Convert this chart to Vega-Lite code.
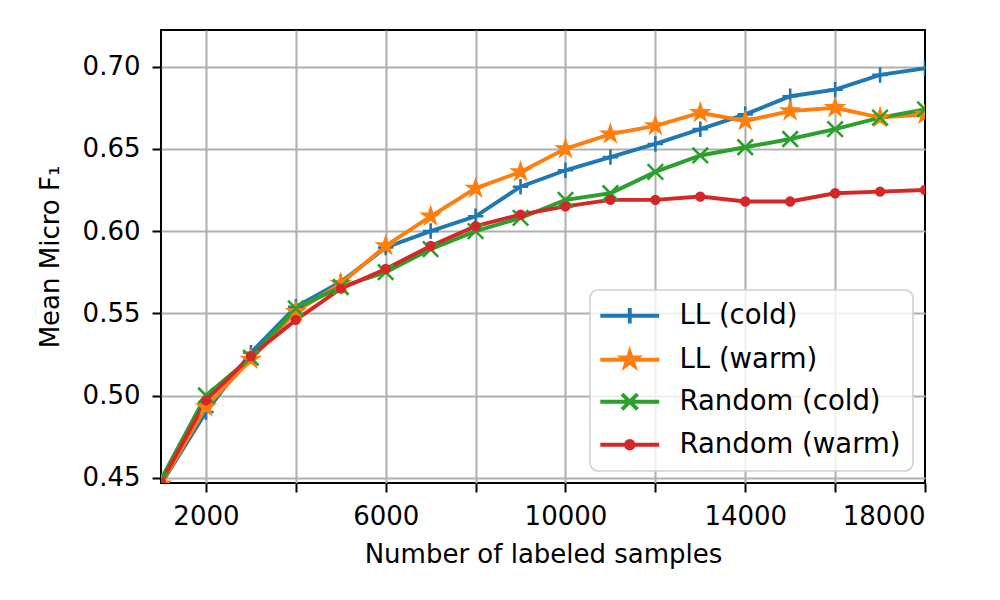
{
  "$schema": "https://vega.github.io/schema/vega-lite/v6.json",
  "description": "Mean micro F1 against number of labeled samples for four sampling strategies",
  "width": 764,
  "height": 453,
  "autosize": {"type": "none"},
  "padding": {"left": 161, "top": 30, "right": 75, "bottom": 117},
  "background": "white",
  "data": {
    "values": [
      {"n": 1000, "series": "LL (cold)", "f1": 0.446},
      {"n": 2000, "series": "LL (cold)", "f1": 0.490},
      {"n": 3000, "series": "LL (cold)", "f1": 0.526},
      {"n": 4000, "series": "LL (cold)", "f1": 0.554},
      {"n": 5000, "series": "LL (cold)", "f1": 0.569},
      {"n": 6000, "series": "LL (cold)", "f1": 0.590},
      {"n": 7000, "series": "LL (cold)", "f1": 0.600},
      {"n": 8000, "series": "LL (cold)", "f1": 0.609},
      {"n": 9000, "series": "LL (cold)", "f1": 0.627},
      {"n": 10000, "series": "LL (cold)", "f1": 0.637},
      {"n": 11000, "series": "LL (cold)", "f1": 0.645},
      {"n": 12000, "series": "LL (cold)", "f1": 0.653},
      {"n": 13000, "series": "LL (cold)", "f1": 0.662},
      {"n": 14000, "series": "LL (cold)", "f1": 0.671},
      {"n": 15000, "series": "LL (cold)", "f1": 0.682},
      {"n": 16000, "series": "LL (cold)", "f1": 0.686},
      {"n": 17000, "series": "LL (cold)", "f1": 0.695},
      {"n": 18000, "series": "LL (cold)", "f1": 0.699},
      {"n": 1000, "series": "LL (warm)", "f1": 0.446},
      {"n": 2000, "series": "LL (warm)", "f1": 0.493},
      {"n": 3000, "series": "LL (warm)", "f1": 0.522},
      {"n": 4000, "series": "LL (warm)", "f1": 0.551},
      {"n": 5000, "series": "LL (warm)", "f1": 0.568},
      {"n": 6000, "series": "LL (warm)", "f1": 0.591},
      {"n": 7000, "series": "LL (warm)", "f1": 0.609},
      {"n": 8000, "series": "LL (warm)", "f1": 0.626},
      {"n": 9000, "series": "LL (warm)", "f1": 0.636},
      {"n": 10000, "series": "LL (warm)", "f1": 0.650},
      {"n": 11000, "series": "LL (warm)", "f1": 0.659},
      {"n": 12000, "series": "LL (warm)", "f1": 0.664},
      {"n": 13000, "series": "LL (warm)", "f1": 0.672},
      {"n": 14000, "series": "LL (warm)", "f1": 0.667},
      {"n": 15000, "series": "LL (warm)", "f1": 0.673},
      {"n": 16000, "series": "LL (warm)", "f1": 0.675},
      {"n": 17000, "series": "LL (warm)", "f1": 0.669},
      {"n": 18000, "series": "LL (warm)", "f1": 0.671},
      {"n": 1000, "series": "Random (cold)", "f1": 0.449},
      {"n": 2000, "series": "Random (cold)", "f1": 0.500},
      {"n": 3000, "series": "Random (cold)", "f1": 0.523},
      {"n": 4000, "series": "Random (cold)", "f1": 0.553},
      {"n": 5000, "series": "Random (cold)", "f1": 0.566},
      {"n": 6000, "series": "Random (cold)", "f1": 0.575},
      {"n": 7000, "series": "Random (cold)", "f1": 0.589},
      {"n": 8000, "series": "Random (cold)", "f1": 0.600},
      {"n": 9000, "series": "Random (cold)", "f1": 0.608},
      {"n": 10000, "series": "Random (cold)", "f1": 0.619},
      {"n": 11000, "series": "Random (cold)", "f1": 0.623},
      {"n": 12000, "series": "Random (cold)", "f1": 0.636},
      {"n": 13000, "series": "Random (cold)", "f1": 0.646},
      {"n": 14000, "series": "Random (cold)", "f1": 0.651},
      {"n": 15000, "series": "Random (cold)", "f1": 0.656},
      {"n": 16000, "series": "Random (cold)", "f1": 0.662},
      {"n": 17000, "series": "Random (cold)", "f1": 0.669},
      {"n": 18000, "series": "Random (cold)", "f1": 0.674},
      {"n": 1000, "series": "Random (warm)", "f1": 0.447},
      {"n": 2000, "series": "Random (warm)", "f1": 0.497},
      {"n": 3000, "series": "Random (warm)", "f1": 0.524},
      {"n": 4000, "series": "Random (warm)", "f1": 0.546},
      {"n": 5000, "series": "Random (warm)", "f1": 0.565},
      {"n": 6000, "series": "Random (warm)", "f1": 0.577},
      {"n": 7000, "series": "Random (warm)", "f1": 0.591},
      {"n": 8000, "series": "Random (warm)", "f1": 0.603},
      {"n": 9000, "series": "Random (warm)", "f1": 0.610},
      {"n": 10000, "series": "Random (warm)", "f1": 0.615},
      {"n": 11000, "series": "Random (warm)", "f1": 0.619},
      {"n": 12000, "series": "Random (warm)", "f1": 0.619},
      {"n": 13000, "series": "Random (warm)", "f1": 0.621},
      {"n": 14000, "series": "Random (warm)", "f1": 0.618},
      {"n": 15000, "series": "Random (warm)", "f1": 0.618},
      {"n": 16000, "series": "Random (warm)", "f1": 0.623},
      {"n": 17000, "series": "Random (warm)", "f1": 0.624},
      {"n": 18000, "series": "Random (warm)", "f1": 0.625}
    ]
  },
  "encoding": {
    "x": {
      "field": "n",
      "type": "quantitative",
      "scale": {"domain": [1000, 18000], "nice": false, "zero": false},
      "axis": {
        "title": "Number of labeled samples",
        "values": [2000, 4000, 6000, 8000, 10000, 12000, 14000, 16000, 18000],
        "labelExpr": "datum.value % 4000 == 2000 ? format(datum.value, 'd') : ''",
        "labelPadding": 11,
        "titlePadding": 12,
        "gridOpacity": {"condition": {"test": "datum.value >= 18000", "value": 0}, "value": 1}
      }
    },
    "y": {
      "field": "f1",
      "type": "quantitative",
      "scale": {"domain": [0.4468, 0.7223], "nice": false, "zero": false},
      "axis": {
        "title": "Mean Micro F₁",
        "values": [0.45, 0.5, 0.55, 0.6, 0.65, 0.7],
        "format": ".2f",
        "labelPadding": 12,
        "titlePadding": 19
      }
    }
  },
  "layer": [
    {
      "mark": {"type": "line", "strokeWidth": 3.9, "clip": true},
      "encoding": {
        "color": {
          "field": "series",
          "type": "nominal",
          "scale": {
            "domain": ["LL (cold)", "LL (warm)", "Random (cold)", "Random (warm)"],
            "range": ["#1f77b4", "#ff7f0e", "#2ca02c", "#d62728"]
          },
          "legend": null
        }
      }
    },
    {
      "mark": {"type": "point", "filled": true, "size": 240, "strokeWidth": 2.6, "opacity": 1, "clip": true},
      "encoding": {
        "color": {
          "field": "series",
          "type": "nominal",
          "scale": {
            "domain": ["LL (cold)", "LL (warm)", "Random (cold)", "Random (warm)"],
            "range": ["#1f77b4", "#ff7f0e", "#2ca02c", "#d62728"]
          },
          "legend": null
        },
        "shape": {
          "field": "series",
          "type": "nominal",
          "scale": {
            "domain": ["LL (cold)", "LL (warm)", "Random (cold)", "Random (warm)"],
            "range": [
              "M-1,0L1,0M0,-1L0,1",
              "M0,-1L0.2245,-0.309L0.951,-0.309L0.363,0.118L0.588,0.809L0,0.382L-0.588,0.809L-0.363,0.118L-0.951,-0.309L-0.2245,-0.309Z",
              "M-1,-1L1,1M-1,1L1,-1",
              "M0.5,0A0.5,0.5,0,1,1,-0.5,0A0.5,0.5,0,1,1,0.5,0Z"
            ]
          },
          "legend": null
        },
        "stroke": {
          "field": "series",
          "type": "nominal",
          "scale": {
            "domain": ["LL (cold)", "LL (warm)", "Random (cold)", "Random (warm)"],
            "range": ["#1f77b4", "#ff7f0e", "#2ca02c", "#d62728"]
          },
          "legend": null
        }
      }
    },
    {
      "transform": [{"filter": "datum.n > 100000"}],
      "mark": {"type": "point", "filled": true, "size": 240, "strokeWidth": 3.9, "opacity": 1},
      "encoding": {
        "color": {
          "field": "series",
          "type": "nominal",
          "title": null,
          "scale": {
            "domain": ["LL (cold)", "LL (warm)", "Random (cold)", "Random (warm)"],
            "range": ["#1f77b4", "#ff7f0e", "#2ca02c", "#d62728"]
          },
          "legend": {
            "title": null,
            "orient": "bottom-right",
            "offset": 12,
            "padding": 12,
            "symbolSize": 240,
            "symbolOffset": 14,
            "labelOffset": 36,
            "rowPadding": 12,
            "labelFontSize": 27.5,
            "symbolStrokeWidth": 3.9,
            "symbolOpacity": 1,
            "fillColor": "rgba(255,255,255,0.8)",
            "strokeColor": "#d0d0d0",
            "cornerRadius": 8
          }
        },
        "shape": {
          "field": "series",
          "type": "nominal",
          "title": null,
          "scale": {
            "domain": ["LL (cold)", "LL (warm)", "Random (cold)", "Random (warm)"],
            "range": [
              "M-3.8,0L3.8,0M0,-1L0,1",
              "M-3.8,0L3.8,0M0,-1L0.2245,-0.309L0.951,-0.309L0.363,0.118L0.588,0.809L0,0.382L-0.588,0.809L-0.363,0.118L-0.951,-0.309L-0.2245,-0.309Z",
              "M-3.8,0L3.8,0M-1,-1L1,1M-1,1L1,-1",
              "M-3.8,0L3.8,0M0.5,0A0.5,0.5,0,1,1,-0.5,0A0.5,0.5,0,1,1,0.5,0Z"
            ]
          },
          "legend": {"title": null, "orient": "bottom-right"}
        },
        "stroke": {
          "field": "series",
          "type": "nominal",
          "title": null,
          "scale": {
            "domain": ["LL (cold)", "LL (warm)", "Random (cold)", "Random (warm)"],
            "range": ["#1f77b4", "#ff7f0e", "#2ca02c", "#d62728"]
          },
          "legend": {"title": null, "orient": "bottom-right"}
        }
      }
    }
  ],
  "resolve": {"scale": {"shape": "independent", "color": "independent", "stroke": "independent"}},
  "config": {
    "font": "DejaVu Sans",
    "view": {"stroke": "#000000", "strokeWidth": 2},
    "axis": {
      "domain": false,
      "labelFont": "DejaVu Sans",
      "labelFontSize": 26,
      "labelColor": "#000000",
      "titleFont": "DejaVu Sans",
      "titleFontSize": 26,
      "titleFontWeight": "normal",
      "titleColor": "#000000",
      "tickColor": "#000000",
      "tickSize": 9,
      "tickWidth": 2,
      "grid": true,
      "gridColor": "#b0b0b0",
      "gridWidth": 2.1
    },
    "legend": {
      "labelFont": "DejaVu Sans",
      "labelColor": "#000000",
      "labelLimit": 400,
      "strokeWidth": 1.6
    }
  }
}
